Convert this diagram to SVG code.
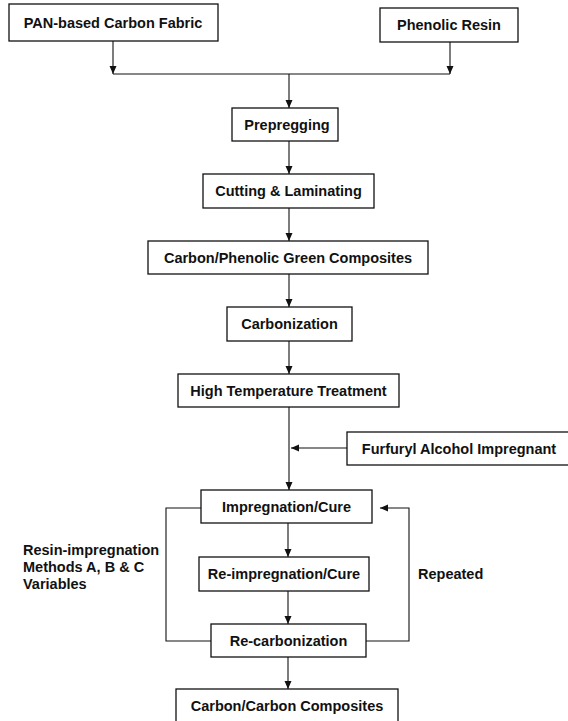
<svg xmlns="http://www.w3.org/2000/svg" width="568" height="721" viewBox="0 0 568 721">
<style>
.box{fill:#fff;stroke:#111;stroke-width:1.3}
.t{font-family:"Liberation Sans",Arial,sans-serif;font-weight:bold;font-size:14.5px;fill:#111;text-anchor:middle}
.l{font-family:"Liberation Sans",Arial,sans-serif;font-weight:bold;font-size:14.5px;fill:#111}
.c{fill:none;stroke:#111;stroke-width:1.1}
</style>
<defs>
<marker id="ah" markerUnits="userSpaceOnUse" markerWidth="9" markerHeight="8" refX="8" refY="3.5" orient="auto">
<path d="M0,0 L8,3.5 L0,7 z" fill="#111"/>
</marker>
</defs>
<rect width="568" height="721" fill="#fff"/>
<g id="connectors">
<path class="c" d="M113,41 V74" marker-end="url(#ah)"/>
<path class="c" d="M450,42 V74" marker-end="url(#ah)"/>
<path class="c" d="M113,74 H450"/>
<path class="c" d="M289,74 V108" marker-end="url(#ah)"/>
<path class="c" d="M289,141 V174" marker-end="url(#ah)"/>
<path class="c" d="M289,208 V241" marker-end="url(#ah)"/>
<path class="c" d="M289,274 V307" marker-end="url(#ah)"/>
<path class="c" d="M289,341 V374" marker-end="url(#ah)"/>
<path class="c" d="M289,407 V490" marker-end="url(#ah)"/>
<path class="c" d="M347,448 H291" marker-end="url(#ah)"/>
<path class="c" d="M288,523 V557" marker-end="url(#ah)"/>
<path class="c" d="M288,591 V624" marker-end="url(#ah)"/>
<path class="c" d="M288,657 V689" marker-end="url(#ah)"/>
<path class="c" d="M201,508 H166 V641 H211"/>
<path class="c" d="M366,641 H409 V508 H380" marker-end="url(#ah)"/>
</g>
<g id="pan"><rect class="box" x="9" y="4" width="209" height="37"/><text class="t" x="113" y="28">PAN-based Carbon Fabric</text></g>
<g id="phenolic"><rect class="box" x="380" y="8" width="138" height="34"/><text class="t" x="449" y="30">Phenolic Resin</text></g>
<g id="prepregging"><rect class="box" x="232" y="108" width="106" height="33"/><text class="t" x="287" y="130">Prepregging</text></g>
<g id="cutting"><rect class="box" x="203" y="174" width="171" height="34"/><text class="t" x="288.5" y="196">Cutting &amp; Laminating</text></g>
<g id="green"><rect class="box" x="148" y="241" width="280" height="33"/><text class="t" x="288" y="263">Carbon/Phenolic Green Composites</text></g>
<g id="carbonization"><rect class="box" x="227" y="307" width="125" height="34"/><text class="t" x="289.5" y="329">Carbonization</text></g>
<g id="htt"><rect class="box" x="178" y="374" width="221" height="33"/><text class="t" x="288.5" y="396">High Temperature Treatment</text></g>
<g id="furfuryl"><rect class="box" x="347" y="432" width="225" height="33"/><text class="t" x="459" y="454">Furfuryl Alcohol Impregnant</text></g>
<g id="impregnation"><rect class="box" x="201" y="490" width="171" height="33"/><text class="t" x="286.5" y="512">Impregnation/Cure</text></g>
<g id="reimpregnation"><rect class="box" x="199" y="557" width="170" height="34"/><text class="t" x="284" y="579">Re-impregnation/Cure</text></g>
<g id="recarbonization"><rect class="box" x="211" y="624" width="155" height="33"/><text class="t" x="288.5" y="646">Re-carbonization</text></g>
<g id="cc"><rect class="box" x="176" y="689" width="222" height="40"/><text class="t" x="287" y="711">Carbon/Carbon Composites</text></g>
<g id="labels">
<text class="l" x="23" y="555">Resin-impregnation</text>
<text class="l" x="23" y="572">Methods A, B &amp; C</text>
<text class="l" x="23" y="589">Variables</text>
<text class="l" x="418" y="579">Repeated</text>
</g>
</svg>
